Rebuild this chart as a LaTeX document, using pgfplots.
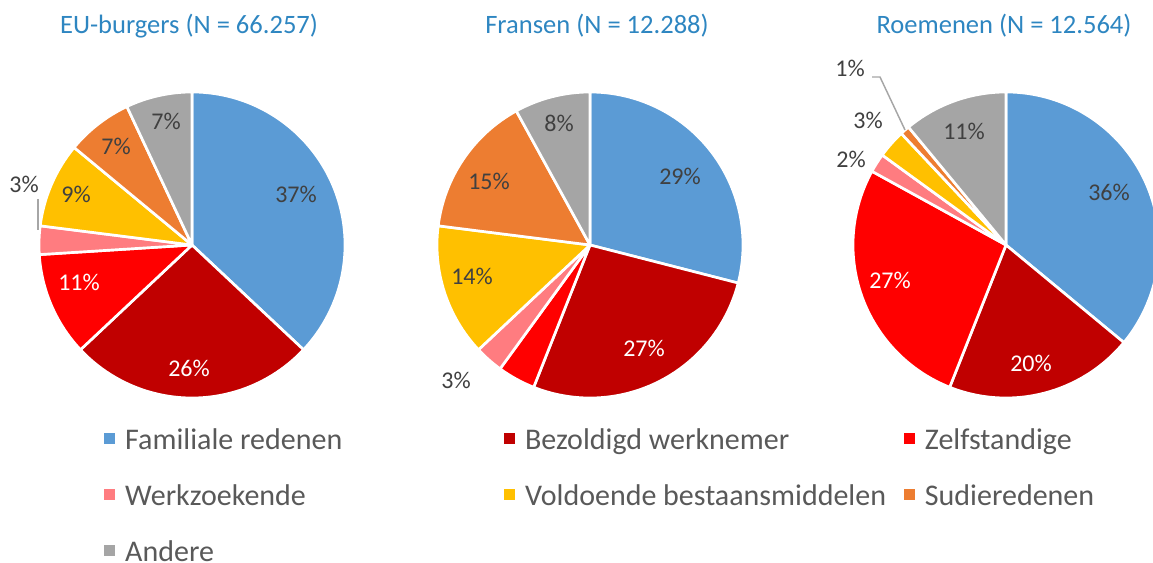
\documentclass[border=0pt]{standalone}
\usepackage{fontspec}
\setmainfont{Carlito}
\usepackage{xcolor}
\usepackage{pgfplots}
\usepackage{pgfplotstable}
\pgfplotsset{compat=1.18}

\definecolor{cfam}{HTML}{5B9BD5}
\definecolor{cbez}{HTML}{C00000}
\definecolor{czelf}{HTML}{FF0000}
\definecolor{cwerk}{HTML}{FF7C80}
\definecolor{cvold}{HTML}{FFC000}
\definecolor{cstud}{HTML}{ED7D31}
\definecolor{cand}{HTML}{A5A5A5}
\definecolor{ttl}{HTML}{2E86C1}
\definecolor{lbl}{HTML}{404040}
\definecolor{leg}{HTML}{595959}
\definecolor{lead}{HTML}{A6A6A6}

% shares per group, clockwise from 12 o'clock
\pgfplotstableread{
val col
37 cfam
26 cbez
11 czelf
3  cwerk
9  cvold
7  cstud
7  cand
}\tabEU
\pgfplotstableread{
val col
29 cfam
27 cbez
4  czelf
3  cwerk
14 cvold
15 cstud
8  cand
}\tabFR
\pgfplotstableread{
val col
36 cfam
20 cbez
27 czelf
2  cwerk
3  cvold
1  cstud
11 cand
}\tabRO

\def\R{114.75pt}
\newcommand{\drawpie}[3]{%
  \xdef\angA{90}%
  \pgfplotstablegetrowsof{#1}%
  \pgfmathtruncatemacro\nrows{\pgfplotsretval-1}%
  \foreach \i in {0,...,\nrows}{%
    \pgfplotstablegetelem{\i}{val}\of{#1}\let\v\pgfplotsretval
    \pgfplotstablegetelem{\i}{col}\of{#1}\let\c\pgfplotsretval
    \pgfmathsetmacro\angB{\angA-3.6*\v}%
    \fill[fill=\c, draw=white, line width=2pt, line join=round]
      (axis cs:#2,#3) -- ++(\angA:\R) arc[start angle=\angA, end angle=\angB, radius=\R] -- cycle;
    \xdef\angA{\angB}%
  }%
}

\begin{document}
\begin{tikzpicture}[
  lab/.style={font=\fontsize{18}{21.6}\selectfont, text=lbl, inner sep=0pt},
  labw/.style={lab, text=white},
  ttlst/.style={font=\fontsize{19.9}{24}\selectfont, text=ttl, anchor=base, inner sep=0pt},
]
\useasboundingbox (0,0) rectangle (864.75pt,422.25pt);
\clip (0,0) rectangle (864.75pt,422.25pt);
\begin{axis}[
  at={(0,0)}, anchor=south west,
  x=0.75pt, y=0.75pt, y dir=reverse,
  xmin=0, xmax=1153, ymin=0, ymax=563,
  hide axis, clip=false,
  legend columns=3,
  legend cell align=left,
  legend image code/.code={%
    \path[draw=none, fill=none] (0pt,0pt) rectangle (15.9pt,0pt);
    \fill[#1, draw=none] (0pt,-4.3pt) rectangle (8.6pt,4.3pt);},
  legend style={at={(axis cs:104,428)}, anchor=north west,
    draw=none, fill=none, inner sep=0pt, outer sep=0pt,
    row sep=26pt, column sep=0pt,
    font=\fontsize{22.5}{27}\selectfont, text=leg,
    nodes={inner sep=0pt, text height=16pt, text depth=0pt}},
]

\addlegendimage{fill=cfam}
\addlegendentry{\makebox[284pt][l]{Familiale redenen}}
\addlegendimage{fill=cbez}
\addlegendentry{\makebox[284pt][l]{Bezoldigd werknemer}}
\addlegendimage{fill=czelf}
\addlegendentry{Zelfstandige}
\addlegendimage{fill=cwerk}
\addlegendentry{\makebox[284pt][l]{Werkzoekende}}
\addlegendimage{fill=cvold}
\addlegendentry{\makebox[284pt][l]{Voldoende bestaansmiddelen}}
\addlegendimage{fill=cstud}
\addlegendentry{Sudieredenen}
\addlegendimage{fill=cand}
\addlegendentry{\makebox[284pt][l]{Andere}}

\pgfplotsextra{%
  \drawpie{\tabEU}{192}{245}%
  \drawpie{\tabFR}{590}{245}%
  \drawpie{\tabRO}{1006}{245}%
}

% titles
\node[ttlst] at (axis cs:189,34) {EU-burgers (N = 66.257)};
\node[ttlst] at (axis cs:597,34) {Fransen (N = 12.288)};
\node[ttlst] at (axis cs:1004,34) {Roemenen (N = 12.564)};

% EU-burgers
\node[lab]  at (axis cs:296,194) {37\%};
\node[labw] at (axis cs:189,368) {26\%};
\node[labw] at (axis cs:79,282)  {11\%};
\node[lab]  at (axis cs:24,184)  {3\%};
\node[lab]  at (axis cs:76,194)  {9\%};
\node[lab]  at (axis cs:116,146) {7\%};
\node[lab]  at (axis cs:166,121) {7\%};
\draw[lead, line width=1.2pt] (axis cs:38,199) -- (axis cs:38,230);

% Fransen
\node[lab]  at (axis cs:680,176) {29\%};
\node[labw] at (axis cs:644,348) {27\%};
\node[lab]  at (axis cs:456,380) {3\%};
\node[lab]  at (axis cs:472,276) {14\%};
\node[lab]  at (axis cs:489,181) {15\%};
\node[lab]  at (axis cs:559,123) {8\%};

% Roemenen
\node[lab]  at (axis cs:1109,192) {36\%};
\node[labw] at (axis cs:1031,363) {20\%};
\node[labw] at (axis cs:890,280)  {27\%};
\node[lab]  at (axis cs:851,159)  {2\%};
\node[lab]  at (axis cs:868,120)  {3\%};
\node[lab]  at (axis cs:850,68)   {1\%};
\node[lab]  at (axis cs:964,131)  {11\%};
\draw[lead, line width=1.1pt] (axis cs:872,77) -- (axis cs:880,77) -- (axis cs:905,130);

\end{axis}
\end{tikzpicture}
\end{document}
